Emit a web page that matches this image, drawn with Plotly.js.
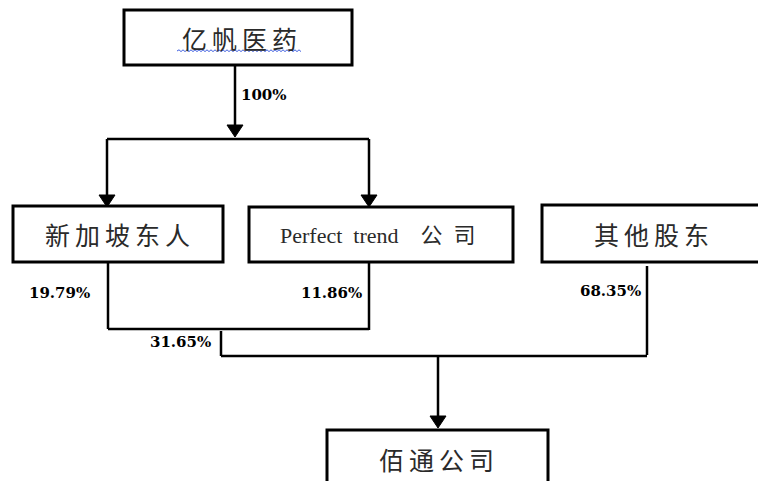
<!DOCTYPE html>
<html>
<head>
<meta charset="utf-8">
<script src="https://cdn.plot.ly/plotly-3.0.1.min.js"></script>
<style>html,body{margin:0;padding:0;background:#fff;}#chart{width:758px;height:481px;}</style>
</head>
<body>
<div id="chart"></div>
<script>
// ---- data ----
var nodeNames = ["亿帆医药", "新加坡东人", "Perfect\u2002trend\u2003公\u2002司", "其他股东", "佰通公司"];
var edgeLabels = ["100%", "19.79%", "11.86%", "68.35%", "31.65%"];

// ---- geometry (pixel coordinates in a 758x481 canvas) ----
var CJK = '"Noto Sans CJK SC", sans-serif';
var boxes = [
  {x0:124, x1:352, y0:10,  y1:65,  size:25, font:CJK, tx:239, ty:38, spaced:true},
  {x0:13,  x1:223, y0:206, y1:262, size:25, font:CJK, tx:117, ty:234, spaced:true},
  {x0:249, x1:513, y0:207, y1:262, size:22, font:'"Liberation Serif", "Noto Sans CJK SC", serif', tx:378, ty:235, spaced:false},
  {x0:542, x1:762, y0:205, y1:262, size:25, font:CJK, tx:651, ty:234, spaced:true},
  {x0:327, x1:548, y0:430, y1:490, size:25, font:CJK, tx:436, ty:459, spaced:true}
];
var labelPos = [
  {x:264, y:95}, {x:59, y:293}, {x:331, y:293}, {x:610, y:291}, {x:180, y:342}
];

var shapes = [];
function line(x0,y0,x1,y1,w){
  shapes.push({type:'line', xref:'x', yref:'y', x0:x0, y0:y0, x1:x1, y1:y1,
    line:{color:'#000', width:w||2.5}});
}
function arrowHead(x, tipY){
  var hw = 8, h = 12;
  shapes.push({type:'path', xref:'x', yref:'y',
    path:'M '+(x-hw)+' '+(tipY-h)+' L '+(x+hw)+' '+(tipY-h)+' L '+x+' '+tipY+' Z',
    fillcolor:'#000', line:{color:'#000', width:1}});
}
boxes.forEach(function(b){
  shapes.push({type:'rect', xref:'x', yref:'y', x0:b.x0, x1:b.x1, y0:b.y0, y1:b.y1,
    line:{color:'#000', width:3}, fillcolor:'rgba(0,0,0,0)'});
});
// top connectors
line(235,65,235,126);
arrowHead(235,137);
line(107,139,369,139);
line(107,139,107,197);
arrowHead(107,207);
line(369,139,369,197);
arrowHead(369,207);
// middle connectors
line(108,262,108,329);
line(369,262,369,330);
line(108,329,369,329);
line(221,331,221,356);
line(647,266,647,355);
line(221,356,647,356);
// bottom connector
line(438,356,438,417);
arrowHead(438,428);
// spell-check style wavy underline
(function(){
  var p = 'M 177 51', up = true;
  for (var x = 179; x <= 302; x += 2) { p += ' L ' + x + ' ' + (up ? 49.8 : 51.6); up = !up; }
  shapes.push({type:'path', xref:'x', yref:'y', path:p, line:{color:'#4060e0', width:1}});
})();

var annotations = [];
boxes.forEach(function(b, i){
  var t = b.spaced ? nodeNames[i].split('').join('\u2009') : nodeNames[i];
  annotations.push({x:b.tx, y:b.ty, xref:'x', yref:'y', text:t, showarrow:false,
    font:{family:b.font, size:b.size, color:'#2a2a2a'}});
});
labelPos.forEach(function(p, i){
  annotations.push({x:p.x, y:p.y, xref:'x', yref:'y', text:'<b>'+edgeLabels[i]+'</b>', showarrow:false,
    font:{family:'"DejaVu Serif", "Liberation Serif", serif', size:15, color:'#000'}});
});

var layout = {
  width:758, height:481,
  margin:{l:0, r:0, t:0, b:0},
  paper_bgcolor:'#fff', plot_bgcolor:'#fff',
  xaxis:{range:[0,758], visible:false, fixedrange:true},
  yaxis:{range:[481,0], visible:false, fixedrange:true},
  shapes:shapes,
  annotations:annotations,
  showlegend:false
};
Plotly.newPlot('chart', [{x:[], y:[], type:'scatter', hoverinfo:'skip'}], layout, {staticPlot:true, displayModeBar:false});
</script>
</body>
</html>
